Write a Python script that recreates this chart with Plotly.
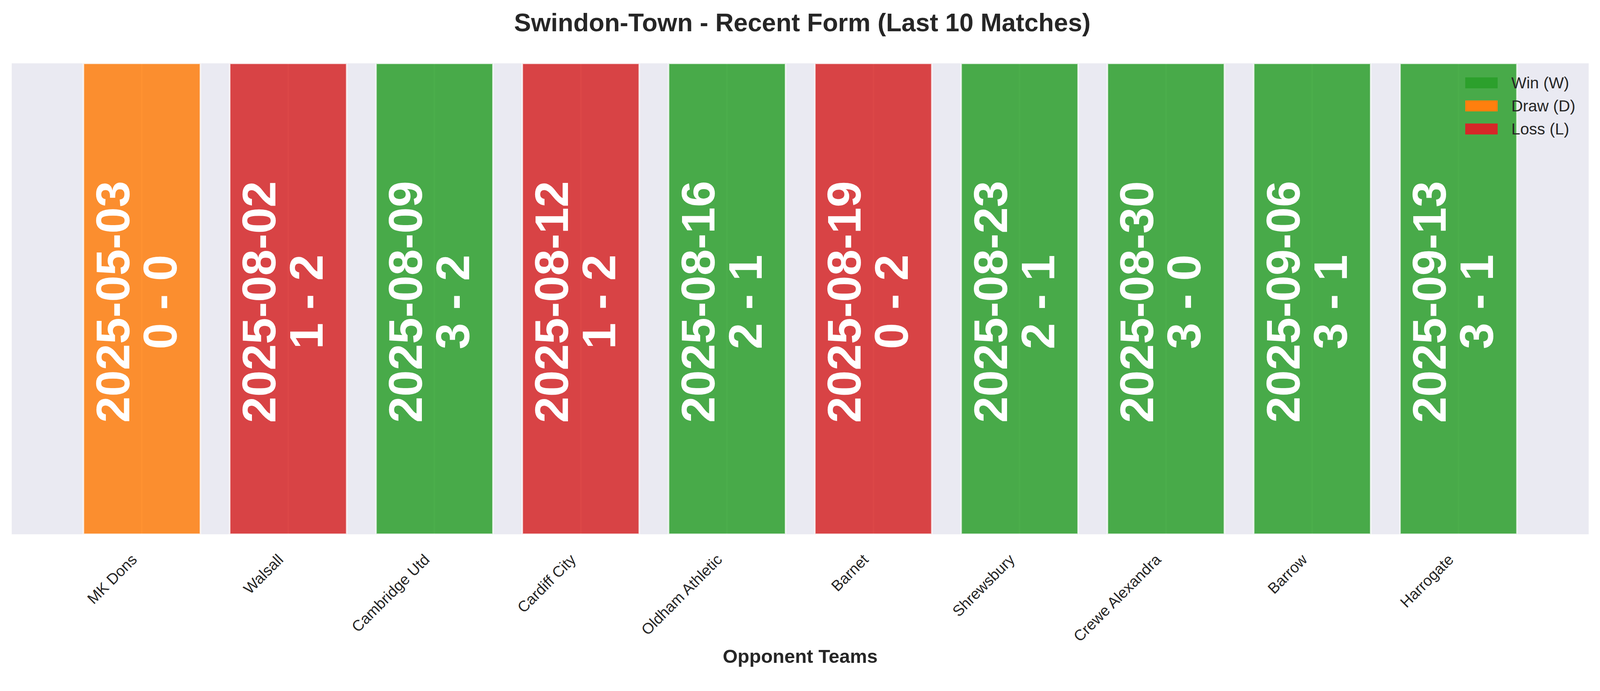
import plotly.graph_objects as go

# match data, oldest first
opponents = ["MK Dons", "Walsall", "Cambridge Utd", "Cardiff City", "Oldham Athletic",
             "Barnet", "Shrewsbury", "Crewe Alexandra", "Barrow", "Harrogate"]
dates = ["2025-05-03", "2025-08-02", "2025-08-09", "2025-08-12", "2025-08-16",
         "2025-08-19", "2025-08-23", "2025-08-30", "2025-09-06", "2025-09-13"]
scores = ["0 - 0", "1 - 2", "3 - 2", "1 - 2", "2 - 1",
          "0 - 2", "2 - 1", "3 - 0", "3 - 1", "3 - 1"]
results = ["D", "L", "W", "L", "W", "L", "W", "W", "W", "W"]
bar_height = [1, 1, 1, 1, 1, 1, 1, 1, 1, 1]

result_codes = ["W", "D", "L"]
result_names = {"W": "Win (W)", "D": "Draw (D)", "L": "Loss (L)"}
result_colors = {"W": "#2ca02c", "D": "#ff7f0e", "L": "#d62728"}

FONT = "Liberation Sans, Arial, sans-serif"
TEXT = "#262626"
# the photographed area is a bit narrower than the window, keep it all inside
W, H = 4088, 1729
ML, MR, MT, MB = 22, 29, 154, 370
PW, PH = W - ML - MR, H - MT - MB

fig = go.Figure()

# one trace per result type
for res in result_codes:
    xs = [o for o, r in zip(opponents, results) if r == res]
    ys = [h for h, r in zip(bar_height, results) if r == res]
    fig.add_trace(go.Bar(
        x=xs, y=ys, name=result_names[res], width=0.8, showlegend=False,
        marker=dict(color=result_colors[res], opacity=0.85,
                    line=dict(color="rgba(255,255,255,0.8)", width=4)),
        hoverinfo="skip",
    ))

# date and score written inside each bar
for opp, d, s in zip(opponents, dates, scores):
    fig.add_annotation(x=opp, y=0.5, text="<b>" + d + "</b>", textangle=-90,
                       showarrow=False, xshift=-75, yshift=-8,
                       font=dict(family=FONT, size=121, color="white"))
    fig.add_annotation(x=opp, y=0.5, text="<b>" + s + "</b>", textangle=-90,
                       showarrow=False, xshift=46, yshift=-8,
                       font=dict(family=FONT, size=121, color="white"))

# legend drawn by hand so the patches get the matplotlib look
lx0, lx1, ltext = 3743, 3826, 3859
ly_first, ly_step, patch_h = 204, 59, 28
for i, res in enumerate(result_codes):
    cy = ly_first + i * ly_step
    fig.add_shape(type="rect", xref="paper", yref="paper",
                  x0=(lx0 - ML) / PW, x1=(lx1 - ML) / PW,
                  y0=1 - (cy - patch_h / 2 - MT) / PH, y1=1 - (cy + patch_h / 2 - MT) / PH,
                  fillcolor=result_colors[res], line=dict(width=0))
    fig.add_annotation(xref="paper", yref="paper", x=(ltext - ML) / PW,
                       y=1 - (cy - MT) / PH, xanchor="left", yanchor="middle",
                       text=result_names[res], showarrow=False,
                       font=dict(family=FONT, size=41, color=TEXT))

fig.update_layout(
    width=W, height=H,
    barmode="overlay",
    paper_bgcolor="white", plot_bgcolor="#EAEAF2",
    margin=dict(l=ML, r=MR, t=MT, b=MB),
    font=dict(family=FONT, color=TEXT),
    title=dict(text="<b>Swindon-Town - Recent Form (Last 10 Matches)</b>",
               x=(4085 / 2 - ML) / PW, xanchor="center", y=1 - 49 / H, yanchor="middle",
               font=dict(size=65, color=TEXT)),
    showlegend=False,
)

fig.update_xaxes(
    categoryorder="array", categoryarray=opponents,
    range=[-0.89, 9.89],
    showgrid=True, gridcolor="white", gridwidth=4,
    tickangle=-45, tickfont=dict(size=39, color=TEXT),
    ticklabelshift=-24, ticklabelstandoff=33,
    ticks="", ticklen=0, showline=False, zeroline=False,
    title=dict(text="<b>Opponent Teams</b>", font=dict(size=49, color=TEXT), standoff=12),
)
fig.update_yaxes(range=[0, 1], showgrid=False, showticklabels=False,
                 zeroline=False, showline=False)

fig.write_html("out.html")
